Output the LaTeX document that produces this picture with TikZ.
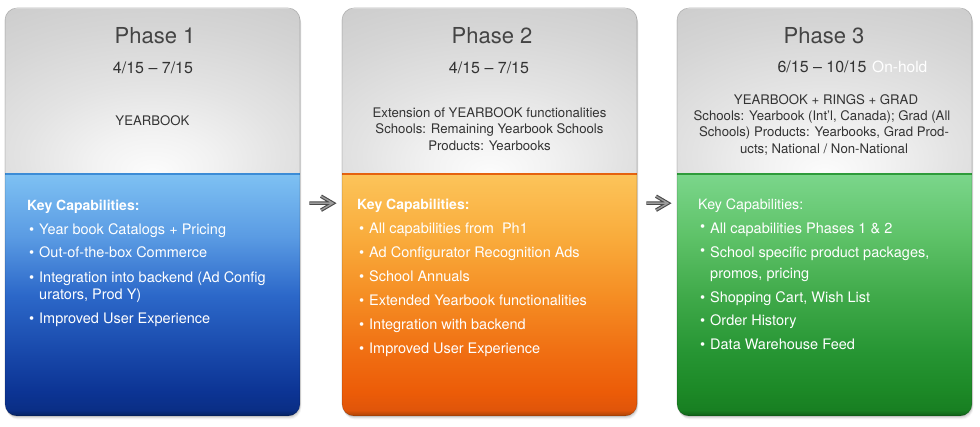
\documentclass[tikz,border=0pt]{standalone}
\usepackage{fontspec}
\setmainfont{TeX Gyre Heros}
\usetikzlibrary{calc}

% text colours
\definecolor{txtdark}{HTML}{333333}
\definecolor{titlegray}{HTML}{444444}
% grey header glow
\definecolor{gw0}{HTML}{FCFCFC}
\definecolor{gw1}{HTML}{F2F2F2}
\definecolor{gw2}{HTML}{E3E3E3}
\definecolor{gw3}{HTML}{D5D5D5}
\definecolor{gw4}{HTML}{C8C8C8}
% blue body
\definecolor{bl0}{HTML}{05225F}
\definecolor{bl1}{HTML}{0A2E85}
\definecolor{bl2}{HTML}{0C3494}
\definecolor{bl3}{HTML}{1848AA}
\definecolor{bl4}{HTML}{2C68C9}
\definecolor{bl5}{HTML}{5A9BE3}
\definecolor{bl6}{HTML}{7EC1F3}
% orange body
\definecolor{or0}{HTML}{A94306}
\definecolor{or1}{HTML}{E0550A}
\definecolor{or2}{HTML}{EC5C08}
\definecolor{or3}{HTML}{F06E12}
\definecolor{or4}{HTML}{F58E24}
\definecolor{or5}{HTML}{F9AC3C}
\definecolor{or6}{HTML}{FCC45A}
% green body
\definecolor{gr0}{HTML}{0F5E17}
\definecolor{gr1}{HTML}{187F22}
\definecolor{gr2}{HTML}{1C8826}
\definecolor{gr3}{HTML}{269533}
\definecolor{gr4}{HTML}{40AA4A}
\definecolor{gr5}{HTML}{5EC268}
\definecolor{gr6}{HTML}{7BD68B}
% section dividers
\definecolor{bdiv}{HTML}{3C8CD6}
\definecolor{odiv}{HTML}{E5620F}
\definecolor{gdiv}{HTML}{2E9B3A}
% arrows
\definecolor{arrdark}{HTML}{4A4A4A}
\definecolor{arrlight}{HTML}{9C9C9C}

\pgfdeclareradialshading{grayglow}{\pgfpoint{0bp}{-25bp}}{%
  color(0bp)=(gw0); color(10bp)=(gw1); color(22bp)=(gw2);
  color(36bp)=(gw3); color(52bp)=(gw4); color(100bp)=(gw4)}
\pgfdeclareverticalshading{blueside}{100bp}{%
  color(0bp)=(bl0); color(25bp)=(bl0); color(26.2bp)=(bl1); color(30bp)=(bl2);
  color(38bp)=(bl3); color(50bp)=(bl4); color(62bp)=(bl5); color(75bp)=(bl6); color(100bp)=(bl6)}
\pgfdeclareverticalshading{orangeside}{100bp}{%
  color(0bp)=(or0); color(25bp)=(or0); color(26.2bp)=(or1); color(30bp)=(or2);
  color(38bp)=(or3); color(50bp)=(or4); color(62bp)=(or5); color(75bp)=(or6); color(100bp)=(or6)}
\pgfdeclareverticalshading{greenside}{100bp}{%
  color(0bp)=(gr0); color(25bp)=(gr0); color(26.2bp)=(gr1); color(30bp)=(gr2);
  color(38bp)=(gr3); color(50bp)=(gr4); color(62bp)=(gr5); color(75bp)=(gr6); color(100bp)=(gr6)}

\newcommand{\bul}{\makebox[10pt][l]{\textbullet}}
\newcommand{\hibul}{\makebox[10pt][l]{\raisebox{2.5pt}{\textbullet}}}

\begin{document}
\begin{tikzpicture}[x=1pt,y=-1pt,
  panelnode/.style={rectangle, draw=none, inner sep=0pt, minimum width=295pt, minimum height=408pt, anchor=north west},
  phtitle/.style={font=\fontsize{22}{26}\selectfont, text=titlegray, anchor=base, inner sep=0pt},
  phdate/.style={font=\fontsize{16}{19}\selectfont, text=txtdark, anchor=base, inner sep=0pt},
  phnote/.style={font=\fontsize{15.5}{18}\selectfont, text=white, anchor=base west, inner sep=0pt},
  phdesc/.style={font=\fontsize{13.2}{16}\selectfont, text=txtdark, anchor=base, inner sep=0pt},
  capkey/.style={font=\fontsize{14}{17}\selectfont\bfseries, text=white, anchor=base west, inner sep=0pt},
  capkeylight/.style={font=\fontsize{14.2}{17}\selectfont, text=white, anchor=base west, inner sep=0pt},
  capitem/.style={font=\fontsize{14.5}{17}\selectfont, text=white, anchor=base west, inner sep=0pt},
  arrowouter/.style={draw=arrdark, line width=3.6pt, line join=miter, line cap=butt},
  arrowinner/.style={draw=arrlight, line width=1.4pt, line join=miter, line cap=butt}
]
\useasboundingbox (0,0) rectangle (980,427);
\fill[white] (0,0) rectangle (980,427);

% three phase cards: grey header over a coloured body
\foreach \xl/\sh/\dv/\nm in {5/blueside/bdiv/p1, 342/orangeside/odiv/p2, 677/greenside/gdiv/p3}{
  \foreach \o/\op in {3.5/0.04, 2.5/0.06, 1.5/0.08}{
    \fill[black, opacity=\op, rounded corners=12pt] (\xl+\o*0.4, 8+\o) rectangle (\xl+295+\o*0.4, 416+\o);
  }
  \node[panelnode] (\nm) at (\xl,8) {};
  \begin{scope}
    \clip[rounded corners=12pt] (\xl,8) rectangle (\xl+295,416);
    \shade[shading=grayglow] (\xl,8) rectangle (\xl+295,174);
    \shade[shading=\sh] (\xl,174) rectangle (\xl+295,416);
    \draw[\dv, line width=1.2pt] (\xl,174) -- (\xl+295,174);
    \draw[white, opacity=0.55, line width=1pt] (\xl,8.8) -- (\xl+295,8.8);
  \end{scope}
  \draw[black, opacity=0.2, line width=0.6pt, rounded corners=12pt] (\xl,8) rectangle (\xl+295,416);
}

% arrows between the cards
\coordinate (a1s) at ([xshift=9pt,yshift=9pt]p1.east);
\coordinate (a1e) at ([xshift=-9pt,yshift=9pt]p2.west);
\coordinate (a2s) at ([xshift=9pt,yshift=9pt]p2.east);
\coordinate (a2e) at ([xshift=-9pt,yshift=9pt]p3.west);
\foreach \st in {arrowouter, arrowinner}{
  \draw[\st] (a1s) -- ([xshift=-1pt]a1e) ([xshift=-12pt,yshift=7pt]a1e) -- (a1e) -- ([xshift=-12pt,yshift=-7pt]a1e);
  \draw[\st] (a2s) -- ([xshift=-1pt]a2e) ([xshift=-12pt,yshift=7pt]a2e) -- (a2e) -- ([xshift=-12pt,yshift=-7pt]a2e);
}

% Phase 1 header
\node[phtitle] (t1) at (155,44) {Phase 1};
\node[phdate] (d1) at (153,73.3) {4/15 – 7/15};
\node[phdesc] (s1) at (152.5,125.7) {YEARBOOK};

% Phase 2 header
\node[phtitle] (t2) at (492,44) {Phase 2};
\node[phdate] (d2) at (489,73.3) {4/15 – 7/15};
\node[phdesc] (s2a) at (489.5,117.3) {Extension of YEARBOOK functionalities};
\node[phdesc] (s2b) at (489.5,134) {Schools: Remaining Yearbook Schools};
\node[phdesc] (s2c) at (489.5,150.7) {Products: Yearbooks};

% Phase 3 header
\node[phtitle] (t3) at (824,44) {Phase 3};
\node[phdate] (d3) at (822,72.3) {6/15 – 10/15};
\node[phnote] (h3) at (872,72.3) {On-hold};
\node[phdesc] (s3a) at (826,104.3) {YEARBOOK + RINGS + GRAD};
\node[phdesc] (s3b) at (822,120.6) {Schools: Yearbook (Int’l, Canada); Grad (All};
\node[phdesc] (s3c) at (824,137) {Schools) Products: Yearbooks, Grad Prod-};
\node[phdesc] (s3d) at (824,153.3) {ucts; National / Non-National};

% Phase 1 capabilities
\node[capkey] (k1) at (27,210.7) {Key Capabilities:};
\node[capitem] (c1a) at (29,234.3) {\bul Year book Catalogs + Pricing};
\node[capitem] (c1b) at (29,258) {\bul Out-of-the-box Commerce};
\node[capitem] (c1c) at (29,282.3) {\bul Integration into backend (Ad Config};
\node[capitem] (c1c2) at (39,300) {urators, Prod Y)};
\node[capitem] (c1d) at (29,324) {\bul Improved User Experience};

% Phase 2 capabilities
\node[capkey] (k2) at (357,210) {Key Capabilities:};
\node[capitem] (c2a) at (359,234) {\bul All capabilities from\ \ Ph1};
\node[capitem] (c2b) at (359,258) {\bul Ad Configurator Recognition Ads};
\node[capitem] (c2c) at (359,282) {\bul School Annuals};
\node[capitem] (c2d) at (359,306) {\bul Extended Yearbook functionalities};
\node[capitem] (c2e) at (359,330) {\bul Integration with backend};
\node[capitem] (c2f) at (359,354) {\bul Improved User Experience};

% Phase 3 capabilities
\node[capkeylight] (k3) at (698,210) {Key Capabilities:};
\node[capitem] (c3a) at (700,234) {\hibul All capabilities Phases 1 \& 2};
\node[capitem] (c3b) at (700,258) {\hibul School specific product packages,};
\node[capitem] (c3b2) at (710,278.3) {promos, pricing};
\node[capitem] (c3c) at (700,302.3) {\bul Shopping Cart, Wish List};
\node[capitem] (c3d) at (700,326) {\bul Order History};
\node[capitem] (c3e) at (700,350) {\bul Data Warehouse Feed};
\end{tikzpicture}
\end{document}
